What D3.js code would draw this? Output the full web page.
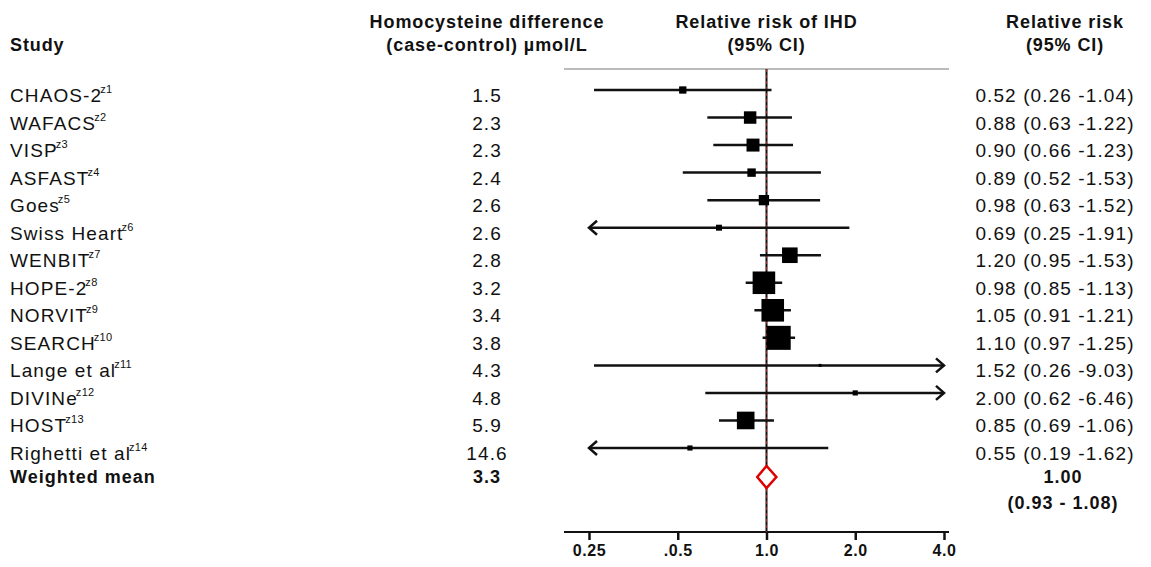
<!DOCTYPE html>
<html>
<head>
<meta charset="utf-8">
<script src="https://cdn.jsdelivr.net/npm/d3@7"></script>
<style>
  body { margin: 0; background: #fff; }
  text { font-family: "Liberation Sans", Arial, sans-serif; fill: #111; }
</style>
</head>
<body>
<script>
var studies = ["CHAOS-2", "WAFACS", "VISP", "ASFAST", "Goes", "Swiss Heart", "WENBIT",
               "HOPE-2", "NORVIT", "SEARCH", "Lange et al", "DIVINe", "HOST", "Righetti et al"];
var refs = ["z1", "z2", "z3", "z4", "z5", "z6", "z7", "z8", "z9", "z10", "z11", "z12", "z13", "z14"];
var hcyDiff = ["1.5", "2.3", "2.3", "2.4", "2.6", "2.6", "2.8", "3.2", "3.4", "3.8", "4.3", "4.8", "5.9", "14.6"];
var rr = [0.52, 0.88, 0.90, 0.89, 0.98, 0.69, 1.20, 0.98, 1.05, 1.10, 1.52, 2.00, 0.85, 0.55];
var lo = [0.26, 0.63, 0.66, 0.52, 0.63, 0.25, 0.95, 0.85, 0.91, 0.97, 0.26, 0.62, 0.69, 0.19];
var hi = [1.04, 1.22, 1.23, 1.53, 1.52, 1.91, 1.53, 1.13, 1.21, 1.25, 9.03, 6.46, 1.06, 1.62];
// relative study weights (square area)
var weights = [1.2, 3.5, 3.8, 1.6, 2.4, 0.8, 5.5, 11.5, 11.5, 13, 0.2, 0.6, 7, 0.6];

var pooled = { label: "Weighted mean", diff: "3.3", rr: 1.00, lo: 0.93, hi: 1.08 };
var tickVals = [0.25, 0.5, 1, 2, 4];
var tickLabels = ["0.25", ".0.5", "1.0", "2.0", "4.0"];

var w = 1151, h = 567;
var svg = d3.select("body").append("svg")
    .attr("width", w)
    .attr("height", h);

var x = d3.scaleLog().base(2).domain([0.25, 4]).range([589, 944]);
var y = d3.scalePoint().domain(studies).range([96, 454]);
var size = d3.scaleSqrt().domain([0, 13]).range([0, 24]);
var yPooled = 477, markShift = -6;
var axisY = 532, topY = 69;
var colDiff = 487, colRR = 1055;

var fmt = d3.format(".2f");
var data = studies.map(function(s, i) {
  return { name: s, ref: refs[i], diff: hcyDiff[i], rr: rr[i], lo: lo[i], hi: hi[i], w: weights[i] };
});

// headers
var head = svg.append("g").style("font-weight", "bold").style("font-size", "18px")
    .style("letter-spacing", "0.9px");
head.append("text").attr("x", 10).attr("y", 51).text("Study");
[["Homocysteine difference", "(case-control) µmol/L", colDiff],
 ["Relative risk of IHD", "(95% CI)", x(1)],
 ["Relative risk", "(95% CI)", 1065]].forEach(function(hd) {
  head.append("text").attr("x", hd[2]).attr("y", 28).attr("text-anchor", "middle").text(hd[0]);
  head.append("text").attr("x", hd[2]).attr("y", 51).attr("text-anchor", "middle").text(hd[1]);
});

// top grey rule and x axis
svg.append("line").attr("x1", 564).attr("x2", 949).attr("y1", topY).attr("y2", topY)
    .attr("stroke", "#bbb").attr("stroke-width", 2);

var axis = d3.axisBottom(x).tickValues(tickVals).tickSize(8).tickPadding(5)
    .tickFormat(function(d, i) { return tickLabels[i]; });
var ax = svg.append("g").attr("transform", "translate(0," + axisY + ")").call(axis);
ax.select(".domain").remove();
ax.append("line").attr("x1", 564).attr("x2", 949).attr("stroke", "#111").attr("stroke-width", 2);
ax.selectAll(".tick line").attr("stroke", "#111").attr("stroke-width", 2.5);
ax.selectAll(".tick text").attr("fill", "#111")
    .style("font-family", "'Liberation Sans', Arial, sans-serif")
    .style("font-size", "16px").style("font-weight", "bold").style("letter-spacing", "0.6px");

// line of no effect
svg.append("line").attr("x1", x(1)).attr("x2", x(1)).attr("y1", topY).attr("y2", axisY)
    .attr("stroke", "#111").attr("stroke-width", 2);
svg.append("line").attr("x1", x(1)).attr("x2", x(1)).attr("y1", topY).attr("y2", axisY)
    .attr("stroke", "#a02020").attr("stroke-width", 1).attr("stroke-dasharray", "3,3");

// study rows
var rows = svg.selectAll(".row").data(data).enter().append("g")
    .attr("class", "row");

rows.append("line")
    .attr("x1", function(d) { return x(Math.max(d.lo, 0.25)); })
    .attr("x2", function(d) { return x(Math.min(d.hi, 4)); })
    .attr("y1", function(d) { return y(d.name) + markShift; })
    .attr("y2", function(d) { return y(d.name) + markShift; })
    .attr("stroke", "#111").attr("stroke-width", 2.5);

// arrows where the interval reaches the edge of the scale
rows.filter(function(d) { return d.lo <= 0.25; }).append("path")
    .attr("d", function(d) {
      var x0 = x(0.25), yy = y(d.name) + markShift;
      return "M" + (x0 + 8) + "," + (yy - 7) + "L" + x0 + "," + yy + "L" + (x0 + 8) + "," + (yy + 7);
    })
    .attr("fill", "none").attr("stroke", "#111").attr("stroke-width", 2.5);
rows.filter(function(d) { return d.hi >= 4; }).append("path")
    .attr("d", function(d) {
      var x0 = x(4), yy = y(d.name) + markShift;
      return "M" + (x0 - 8) + "," + (yy - 7) + "L" + x0 + "," + yy + "L" + (x0 - 8) + "," + (yy + 7);
    })
    .attr("fill", "none").attr("stroke", "#111").attr("stroke-width", 2.5);

rows.append("rect")
    .attr("x", function(d) { return x(d.rr) - size(d.w) / 2; })
    .attr("y", function(d) { return y(d.name) + markShift - size(d.w) / 2; })
    .attr("width", function(d) { return size(d.w); })
    .attr("height", function(d) { return size(d.w); })
    .attr("fill", "#000");

var lab = rows.append("text")
    .attr("x", 10)
    .attr("y", function(d) { return y(d.name) + 6; })
    .style("font-size", "19px").style("letter-spacing", "1.1px");
lab.append("tspan").text(function(d) { return d.name; });
lab.append("tspan").attr("dx", -2).attr("dy", -9).style("font-size", "11px")
    .style("letter-spacing", "0.3px")
    .text(function(d) { return d.ref; });

rows.append("text")
    .attr("x", colDiff)
    .attr("y", function(d) { return y(d.name) + 6; })
    .attr("text-anchor", "middle")
    .style("font-size", "19px").style("letter-spacing", "1.1px")
    .text(function(d) { return d.diff; });

rows.append("text")
    .attr("x", colRR)
    .attr("y", function(d) { return y(d.name) + 6; })
    .attr("text-anchor", "middle")
    .style("font-size", "19px").style("letter-spacing", "1.1px")
    .text(function(d) { return fmt(d.rr) + " (" + fmt(d.lo) + " -" + fmt(d.hi) + ")"; });

// pooled estimate
var pg = svg.append("g").style("font-weight", "bold").style("font-size", "18px")
    .style("letter-spacing", "1px");
pg.append("text").attr("x", 10).attr("y", yPooled + 6).text(pooled.label);
pg.append("text").attr("x", colDiff).attr("y", yPooled + 6).attr("text-anchor", "middle").text(pooled.diff);
pg.append("text").attr("x", 1063).attr("y", yPooled + 6).attr("text-anchor", "middle").text(fmt(pooled.rr));
pg.append("text").attr("x", 1063).attr("y", yPooled + 32).attr("text-anchor", "middle")
    .text("(" + fmt(pooled.lo) + " - " + fmt(pooled.hi) + ")");

svg.append("path")
    .attr("d", "M" + x(pooled.lo) + "," + yPooled + "L" + x(pooled.rr) + "," + (yPooled - 11) +
               "L" + x(pooled.hi) + "," + yPooled + "L" + x(pooled.rr) + "," + (yPooled + 11) + "Z")
    .attr("fill", "#fff").attr("stroke", "#e00000").attr("stroke-width", 2.5);
</script>
</body>
</html>
